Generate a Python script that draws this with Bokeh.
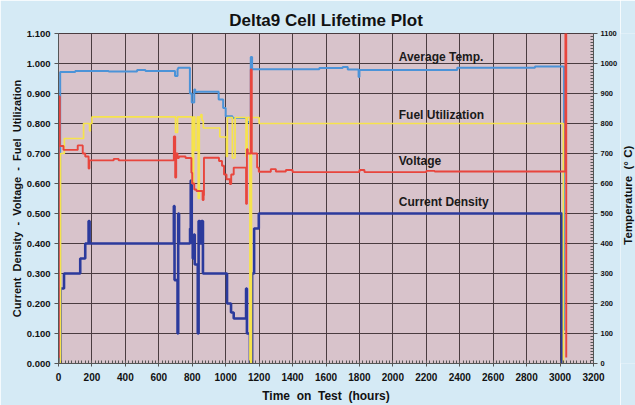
import math
from bokeh.plotting import figure
from bokeh.layouts import row
from bokeh.models import Range1d, LinearAxis, FixedTicker, PrintfTickFormatter
from bokeh.core.properties import value
from bokeh.embed import file_html
from bokeh.resources import INLINE

# ---- data ----
x_ticks = [0, 200, 400, 600, 800, 1000, 1200, 1400, 1600, 1800, 2000, 2200, 2400, 2600, 2800, 3000, 3200]
y_ticks = [0.0, 0.1, 0.2, 0.3, 0.4, 0.5, 0.6, 0.7, 0.8, 0.9, 1.0, 1.1]
t_ticks = [0, 100, 200, 300, 400, 500, 600, 700, 800, 900, 1000, 1100]

# Current density (step changes: time in hours, value)
cd_t = [0, 12, 33, 130, 160, 180, 186, 690, 694, 712, 716, 721, 787, 791, 797, 803, 810, 815, 833, 838,
        845, 855, 864, 1008, 1032, 1048, 1122, 1127, 1145, 1158, 1170, 1198, 3012]
cd_v = [0.0, 0.25, 0.30, 0.35, 0.40, 0.475, 0.40, 0.525, 0.278, 0.10, 0.50, 0.40, 0.45, 0.61, 0.40, 0.35,
        0.43, 0.33, 0.10, 0.475, 0.40, 0.475, 0.30, 0.20, 0.17, 0.15, 0.25, 0.10, 0.0, 0.30, 0.45, 0.50, 0.0]

# Average temperature (deg C, right axis)
temp_t = [0, 10, 100, 300, 470, 520, 697, 712, 716, 786, 797, 812, 818, 832, 958, 985, 1000, 1040, 1125,
          1150, 1158, 1560, 1700, 1730, 1795, 1800, 2385, 2850, 3024]
temp_v = [30, 972, 975, 973, 978, 975, 958, 982, 986, 900, 870, 913, 905, 906, 880, 852, 824, 818, 805,
          1022, 981, 985, 988, 980, 955, 978, 986, 990, 110]

# Fuel utilization
fu_t = [0, 12, 35, 150, 186, 190, 200, 700, 712, 800, 808, 815, 830, 836, 842, 852, 858, 866, 965, 1005,
        1010, 1040, 1056, 1122, 1128, 1145, 1154, 1200, 3020]
fu_v = [0.0, 0.70, 0.75, 0.80, 0.775, 0.80, 0.822, 0.77, 0.822, 0.60, 0.822, 0.71, 0.822, 0.55, 0.822,
        0.83, 0.81, 0.785, 0.755, 0.69, 0.82, 0.685, 0.82, 0.69, 0.82, 0.0, 0.82, 0.80, 0.0]

# Voltage
v_t = [0, 2, 8, 30, 115, 145, 160, 180, 185, 330, 360, 690, 698, 704, 712, 720, 760, 795, 800, 812, 825,
       840, 862, 868, 870, 960, 978, 990, 1005, 1025, 1033, 1048, 1122, 1127, 1132, 1150, 1156, 1168, 1188,
       1198, 1270, 1300, 1360, 1400, 1800, 1830, 2200, 2250, 3032, 3037]
v_v = [0.02, 0.89, 0.725, 0.712, 0.727, 0.70, 0.69, 0.65, 0.677, 0.682, 0.677, 0.757, 0.62, 0.70, 0.685,
       0.69, 0.685, 0.636, 0.60, 0.58, 0.575, 0.575, 0.545, 0.56, 0.686, 0.675, 0.659, 0.63, 0.614, 0.598,
       0.63, 0.653, 0.532, 0.714, 0.70, 0.98, 0.70, 0.70, 0.653, 0.639, 0.648, 0.64, 0.645, 0.638, 0.645,
       0.638, 0.642, 0.64, 1.12, 0.02]

label_text = ["Average Temp.", "Fuel Utilization", "Voltage", "Current Density"]
label_x = [2035, 2035, 2035, 2035]
label_y = [1.021, 0.829, 0.674, 0.538]

right_title = ["Temperature\u00a0 (° C)"]

FONT = "Liberation Sans"
GRID = "#4a3c40"
NB = "\u00a0"
BG_OUT = "#d5eaf5"

W, H = 620, 405
BL, BR, BT, BB = 58, 24, 33, 40
W2 = 15

p = figure(width=W, height=H, x_range=Range1d(0, 3200), y_range=Range1d(0, 1.1),
           output_backend="svg", toolbar_location=None,
           min_border_left=BL, min_border_right=BR, min_border_top=BT, min_border_bottom=BB,
           background_fill_color="#d8c3cb", border_fill_color=BG_OUT,
           outline_line_color=GRID, outline_line_width=1)
p.extra_y_ranges = {"temp": Range1d(0, 1100)}

p.title.text = "Delta9 Cell Lifetime Plot"
p.title.align = "center"
p.title.text_font = FONT
p.title.text_font_size = "17px"
p.title.text_font_style = "bold"
p.title.text_color = "#111111"
p.title.standoff = 7

# grids
p.xgrid.ticker = FixedTicker(ticks=x_ticks)
p.ygrid.ticker = FixedTicker(ticks=y_ticks)
for g in (p.xgrid, p.ygrid):
    g.grid_line_color = GRID
    g.grid_line_width = 1

# bottom axis
minor_x = [m for m in range(0, 3201, 20)]
xa = p.xaxis[0]
xa.ticker = FixedTicker(ticks=x_ticks, minor_ticks=minor_x)
xa.axis_label = "Time" + NB + " on" + NB + " Test" + NB + " (hours)"
xa.major_tick_out = 3
xa.major_tick_in = 0
xa.minor_tick_in = 3
xa.minor_tick_out = 0
xa.major_label_standoff = 6
xa.axis_label_standoff = 5

# left axis
ya = p.yaxis[0]
ya.ticker = FixedTicker(ticks=y_ticks)
ya.formatter = PrintfTickFormatter(format="%.3f")
ya.axis_label = ("Current" + NB + " Density" + NB + " -" + NB + " Voltage" + NB + " -" + NB
                 + " Fuel" + NB + " Utilization")
ya.major_tick_out = 4
ya.major_tick_in = 0
ya.minor_tick_out = 0
ya.minor_tick_in = 0
ya.major_label_standoff = 4
ya.axis_label_standoff = 1

# right axis
minor_t = [m for m in range(0, 1101, 10)]
ra = LinearAxis(y_range_name="temp", ticker=FixedTicker(ticks=t_ticks, minor_ticks=minor_t))
ra.major_tick_out = 4
ra.major_tick_in = 0
ra.minor_tick_in = 3
ra.minor_tick_out = 0
ra.major_label_standoff = 3
p.add_layout(ra, "right")

for ax in (xa, ya, ra):
    ax.axis_line_color = "#555555"
    ax.major_tick_line_color = "#555555"
    ax.minor_tick_line_color = "#555555"
    ax.major_label_text_font = FONT
    ax.major_label_text_font_style = "bold"
    ax.major_label_text_color = "#111111"
    ax.axis_label_text_font = FONT
    ax.axis_label_text_font_style = "bold"
    ax.axis_label_text_color = "#111111"
xa.major_label_text_font_size = "10px"
ya.major_label_text_font_size = "9.5px"
ra.major_label_text_font_size = "7.5px"
xa.axis_label_text_font_size = "12px"
ya.axis_label_text_font_size = "11px"

# series
p.step(cd_t, cd_v, mode="after", line_color="#2b3a9c", line_width=2.6)
p.step(temp_t, temp_v, mode="after", line_color="#4b93d8", line_width=2, y_range_name="temp")
p.step(fu_t, fu_v, mode="after", line_color="#f6e34c", line_width=1.7)
p.step(v_t, v_v, mode="after", line_color="#e8453d", line_width=1.9)

p.text(x=label_x, y=label_y, text=label_text, text_font=value(FONT), text_font_style="bold",
       text_font_size="12px", text_baseline="middle", text_align="left", text_color="#1a1a1a")

# narrow strip carrying the right-hand axis title (reads bottom to top)
p2 = figure(width=W2, height=H, x_range=Range1d(0, 1), y_range=Range1d(0, 1),
            output_backend="svg", toolbar_location=None, x_axis_location=None, y_axis_location=None,
            min_border=0, background_fill_color=BG_OUT, border_fill_color=BG_OUT,
            outline_line_color=None)
p2.grid.visible = False
p2.text(x=[0.47], y=[0.51], text=right_title, angle=math.pi / 2, text_font=value(FONT),
        text_font_style="bold", text_font_size="11.5px", text_color="#111111",
        text_align="center", text_baseline="middle")

layout = row(p, p2, spacing=0)

open("out.html", "w").write(file_html(layout, INLINE))
